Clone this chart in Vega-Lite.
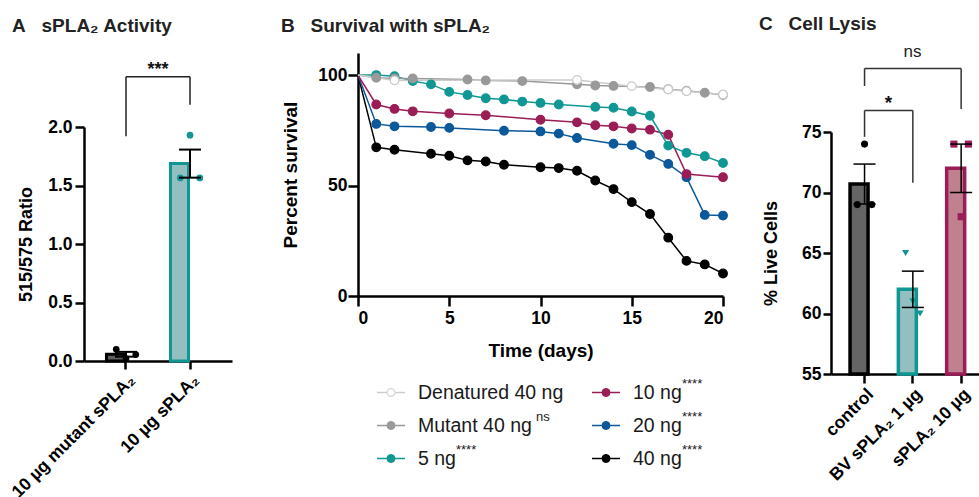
{
  "$schema": "https://vega.github.io/schema/vega-lite/v6.json",
  "background": "white",
  "padding": {"left": 8, "top": 15, "right": 0, "bottom": 0},
  "autosize": {"type": "pad"},
  "config": {
    "font": "Liberation Sans",
    "view": {"stroke": null},
    "axis": {"domainColor": "#000", "domainWidth": 2.5, "tickColor": "#000", "tickWidth": 2.5, "labelColor": "#000", "labelFont": "Liberation Sans", "labelFontWeight": "bold", "labelFontSize": 17.5, "titleFont": "Liberation Sans", "titleFontWeight": "bold", "titleFontSize": 18, "titleColor": "#000", "grid": false, "labelPadding": 2},
    "title": {"font": "Liberation Sans", "fontSize": 19, "fontWeight": "bold", "color": "#222", "anchor": "start"}
  },
  "datasets": {
    "barsA": [
      {"cond": "10 µg mutant sPLA₂", "mean": 0.058, "lo": 0.037, "hi": 0.078},
      {"cond": "10 µg sPLA₂", "mean": 1.687, "lo": 1.567, "hi": 1.807}
    ],
    "ptsA": [
      {"cond": "10 µg mutant sPLA₂", "rep": 1, "val": 0.10},
      {"cond": "10 µg mutant sPLA₂", "rep": 2, "val": 0.02},
      {"cond": "10 µg mutant sPLA₂", "rep": 3, "val": 0.055},
      {"cond": "10 µg sPLA₂", "rep": 1, "val": 1.565},
      {"cond": "10 µg sPLA₂", "rep": 2, "val": 1.93},
      {"cond": "10 µg sPLA₂", "rep": 3, "val": 1.565}
    ],
    "brA": [
      {"a": "10 µg mutant sPLA₂", "b": "10 µg sPLA₂", "ya": 1.92, "yb": 2.19, "top": 2.43, "label": "***"}
    ],
    "surv": [
      {"series": "40 ng", "day": 0, "pct": 100}, {"series": "40 ng", "day": 1, "pct": 67.3}, {"series": "40 ng", "day": 2, "pct": 66.2}, {"series": "40 ng", "day": 4, "pct": 64.4}, {"series": "40 ng", "day": 5, "pct": 63.5}, {"series": "40 ng", "day": 6, "pct": 61.4}, {"series": "40 ng", "day": 7, "pct": 60.9}, {"series": "40 ng", "day": 8, "pct": 59.4}, {"series": "40 ng", "day": 10, "pct": 58.3}, {"series": "40 ng", "day": 11, "pct": 57.9}, {"series": "40 ng", "day": 12, "pct": 56.7}, {"series": "40 ng", "day": 13, "pct": 52.3}, {"series": "40 ng", "day": 14, "pct": 48.4}, {"series": "40 ng", "day": 15, "pct": 42.5}, {"series": "40 ng", "day": 16, "pct": 37.1}, {"series": "40 ng", "day": 17, "pct": 26.4}, {"series": "40 ng", "day": 18, "pct": 15.9}, {"series": "40 ng", "day": 19, "pct": 14.3}, {"series": "40 ng", "day": 20, "pct": 10.2},
      {"series": "20 ng", "day": 0, "pct": 100}, {"series": "20 ng", "day": 1, "pct": 77.9}, {"series": "20 ng", "day": 2, "pct": 76.8}, {"series": "20 ng", "day": 4, "pct": 76.5}, {"series": "20 ng", "day": 5, "pct": 76.1}, {"series": "20 ng", "day": 8, "pct": 74.8}, {"series": "20 ng", "day": 10, "pct": 74.5}, {"series": "20 ng", "day": 11, "pct": 73.5}, {"series": "20 ng", "day": 12, "pct": 71.5}, {"series": "20 ng", "day": 14, "pct": 68.9}, {"series": "20 ng", "day": 15, "pct": 68.3}, {"series": "20 ng", "day": 16, "pct": 63.9}, {"series": "20 ng", "day": 17, "pct": 59.8}, {"series": "20 ng", "day": 18, "pct": 53.8}, {"series": "20 ng", "day": 19, "pct": 36.7}, {"series": "20 ng", "day": 20, "pct": 36.4},
      {"series": "10 ng", "day": 0, "pct": 100}, {"series": "10 ng", "day": 1, "pct": 86.7}, {"series": "10 ng", "day": 2, "pct": 84.7}, {"series": "10 ng", "day": 3, "pct": 83.6}, {"series": "10 ng", "day": 5, "pct": 82.6}, {"series": "10 ng", "day": 7, "pct": 81.8}, {"series": "10 ng", "day": 10, "pct": 79.8}, {"series": "10 ng", "day": 12, "pct": 78.6}, {"series": "10 ng", "day": 13, "pct": 77.3}, {"series": "10 ng", "day": 14, "pct": 76.8}, {"series": "10 ng", "day": 15, "pct": 75.8}, {"series": "10 ng", "day": 16, "pct": 75.3}, {"series": "10 ng", "day": 17, "pct": 73.0}, {"series": "10 ng", "day": 18, "pct": 55.2}, {"series": "10 ng", "day": 20, "pct": 53.8},
      {"series": "5 ng", "day": 0, "pct": 100}, {"series": "5 ng", "day": 1, "pct": 100}, {"series": "5 ng", "day": 2, "pct": 99.5}, {"series": "5 ng", "day": 3, "pct": 97.3}, {"series": "5 ng", "day": 4, "pct": 95.8}, {"series": "5 ng", "day": 5, "pct": 92.4}, {"series": "5 ng", "day": 6, "pct": 91.0}, {"series": "5 ng", "day": 7, "pct": 89.5}, {"series": "5 ng", "day": 8, "pct": 89.0}, {"series": "5 ng", "day": 9, "pct": 88.0}, {"series": "5 ng", "day": 10, "pct": 87.4}, {"series": "5 ng", "day": 11, "pct": 86.7}, {"series": "5 ng", "day": 13, "pct": 85.6}, {"series": "5 ng", "day": 14, "pct": 85.2}, {"series": "5 ng", "day": 15, "pct": 83.5}, {"series": "5 ng", "day": 16, "pct": 81.6}, {"series": "5 ng", "day": 17, "pct": 68.1}, {"series": "5 ng", "day": 18, "pct": 64.8}, {"series": "5 ng", "day": 19, "pct": 63.3}, {"series": "5 ng", "day": 20, "pct": 60.2},
      {"series": "Mutant 40 ng", "day": 0, "pct": 100}, {"series": "Mutant 40 ng", "day": 1, "pct": 98.8}, {"series": "Mutant 40 ng", "day": 2, "pct": 98.5}, {"series": "Mutant 40 ng", "day": 3, "pct": 98.5}, {"series": "Mutant 40 ng", "day": 6, "pct": 98.0}, {"series": "Mutant 40 ng", "day": 7, "pct": 97.6}, {"series": "Mutant 40 ng", "day": 9, "pct": 97.3}, {"series": "Mutant 40 ng", "day": 12, "pct": 95.8}, {"series": "Mutant 40 ng", "day": 13, "pct": 95.3}, {"series": "Mutant 40 ng", "day": 14, "pct": 95.1}, {"series": "Mutant 40 ng", "day": 16, "pct": 94.6}, {"series": "Mutant 40 ng", "day": 17, "pct": 93.6}, {"series": "Mutant 40 ng", "day": 18, "pct": 92.9}, {"series": "Mutant 40 ng", "day": 19, "pct": 92.0}, {"series": "Mutant 40 ng", "day": 20, "pct": 91.0},
      {"series": "Denatured 40 ng", "day": 0, "pct": 100}, {"series": "Denatured 40 ng", "day": 2, "pct": 97.6}, {"series": "Denatured 40 ng", "day": 12, "pct": 97.8}, {"series": "Denatured 40 ng", "day": 15, "pct": 95.0}, {"series": "Denatured 40 ng", "day": 17, "pct": 93.5}, {"series": "Denatured 40 ng", "day": 18, "pct": 92.7}, {"series": "Denatured 40 ng", "day": 20, "pct": 91.2}
    ],
    "leg": [
      {"series": "Denatured 40 ng", "sup": ""},
      {"series": "Mutant 40 ng", "sup": "ns"},
      {"series": "5 ng", "sup": "****"},
      {"series": "10 ng", "sup": "****"},
      {"series": "20 ng", "sup": "****"},
      {"series": "40 ng", "sup": "****"}
    ],
    "barsC": [
      {"cond": "control", "mean": 70.7, "lo": 69.05, "hi": 72.35},
      {"cond": "BV sPLA₂ 1 µg", "mean": 62.0, "lo": 60.5, "hi": 63.5},
      {"cond": "sPLA₂ 10 µg", "mean": 72.0, "lo": 70.0, "hi": 74.0}
    ],
    "ptsC": [
      {"cond": "control", "rep": 1, "val": 69.0},
      {"cond": "control", "rep": 2, "val": 74.0},
      {"cond": "control", "rep": 3, "val": 69.0},
      {"cond": "BV sPLA₂ 1 µg", "rep": 1, "val": 65.0},
      {"cond": "BV sPLA₂ 1 µg", "rep": 2, "val": 61.0},
      {"cond": "BV sPLA₂ 1 µg", "rep": 3, "val": 60.0},
      {"cond": "sPLA₂ 10 µg", "rep": 1, "val": 74.0},
      {"cond": "sPLA₂ 10 µg", "rep": 2, "val": 68.0},
      {"cond": "sPLA₂ 10 µg", "rep": 3, "val": 74.0}
    ],
    "brC": [
      {"a": "control", "b": "BV sPLA₂ 1 µg", "ya": 74.6, "yb": 70.8, "top": 76.77, "label": "*"},
      {"a": "control", "b": "sPLA₂ 10 µg", "ya": 78.8, "yb": 76.9, "top": 80.25, "label": "ns"}
    ]
  },
  "resolve": {"scale": {"color": "independent", "fill": "independent", "stroke": "independent", "shape": "independent", "x": "independent", "y": "independent", "xOffset": "independent"}},
  "spacing": 49,
  "hconcat": [
    {
      "bounds": "flush",
      "spacing": 0,
      "resolve": {"scale": {"x": "independent", "y": "independent"}},
      "vconcat": [
        {
          "width": 148, "height": 74,
          "title": {"text": "A\u00a0\u00a0\u00a0sPLA₂ Activity", "offset": 17, "dx": -72, "frame": "group"},
          "data": {"name": "brA"},
          "encoding": {
            "y": {"field": "top", "type": "quantitative", "scale": {"domain": [2.0, 2.6325], "nice": false, "zero": false}, "axis": null}
          },
          "layer": [
            {"mark": {"type": "rule", "strokeWidth": 1.5, "color": "#222"},
             "encoding": {"x": {"field": "a", "type": "nominal", "scale": {"domain": ["10 µg mutant sPLA₂", "10 µg sPLA₂"], "paddingInner": 0.39, "paddingOuter": 0.351}, "axis": null}, "x2": {"field": "b"}}},
            {"mark": {"type": "rule", "strokeWidth": 1.5, "color": "#222"},
             "encoding": {"x": {"field": "a", "type": "nominal"}, "y": {"field": "ya", "type": "quantitative"}, "y2": {"field": "top"}}},
            {"mark": {"type": "rule", "strokeWidth": 1.5, "color": "#222"},
             "encoding": {"x": {"field": "b", "type": "nominal"}, "y": {"field": "yb", "type": "quantitative"}, "y2": {"field": "top"}}},
            {"mark": {"type": "text", "dx": 32, "dy": -2, "baseline": "alphabetic", "fontSize": 18, "fontWeight": "bold", "color": "#111"},
             "encoding": {"x": {"field": "a", "type": "nominal"}, "text": {"field": "label"}}}
          ]
        },
        {
          "width": 148, "height": 234,
          "layer": [
            {"data": {"name": "barsA"}, "mark": {"type": "bar", "strokeWidth": 3},
             "encoding": {
               "x": {"field": "cond", "type": "nominal", "sort": null, "scale": {"domain": ["10 µg mutant sPLA₂", "10 µg sPLA₂"], "paddingInner": 0.39, "paddingOuter": 0.351}, "axis": {"title": null, "labelAngle": -45, "tickSize": 8, "labelPadding": 2, "labelFontSize": 17.5}},
               "y": {"field": "mean", "type": "quantitative", "scale": {"domain": [0, 2], "nice": false}, "axis": {"values": [0, 0.5, 1, 1.5, 2], "format": ".1f", "title": "515/575 Ratio", "tickSize": 9, "labelPadding": 3, "titlePadding": 12, "titleFontSize": 18}},
               "fill": {"field": "cond", "type": "nominal", "scale": {"domain": ["10 µg mutant sPLA₂", "10 µg sPLA₂"], "range": ["#5e5e5e", "#93bfc0"]}, "legend": null},
               "stroke": {"field": "cond", "type": "nominal", "scale": {"domain": ["10 µg mutant sPLA₂", "10 µg sPLA₂"], "range": ["#000000", "#109794"]}, "legend": null}
             }},
            {"data": {"name": "ptsA"}, "mark": {"type": "point", "shape": "circle", "filled": true, "size": 45, "opacity": 1},
             "encoding": {
               "x": {"field": "cond", "type": "nominal"},
               "xOffset": {"field": "rep", "type": "ordinal", "scale": {"type": "point", "padding": 1.91}},
               "y": {"field": "val", "type": "quantitative"},
               "color": {"field": "cond", "type": "nominal", "scale": {"domain": ["10 µg mutant sPLA₂", "10 µg sPLA₂"], "range": ["#000000", "#109794"]}, "legend": null}
             }},
            {"data": {"name": "barsA"}, "mark": {"type": "rule", "strokeWidth": 2, "color": "#000"},
             "encoding": {"x": {"field": "cond", "type": "nominal"}, "y": {"field": "lo", "type": "quantitative"}, "y2": {"field": "hi"}}},
            {"data": {"name": "barsA"}, "mark": {"type": "tick", "orient": "horizontal", "thickness": 2, "size": 22, "color": "#000", "opacity": 1},
             "encoding": {"x": {"field": "cond", "type": "nominal"}, "y": {"field": "hi", "type": "quantitative"}}},
            {"data": {"name": "barsA"}, "mark": {"type": "tick", "orient": "horizontal", "thickness": 2, "size": 22, "color": "#000", "opacity": 1},
             "encoding": {"x": {"field": "cond", "type": "nominal"}, "y": {"field": "lo", "type": "quantitative"}}}
          ]
        }
      ]
    },
    {
      "spacing": 29,
      "resolve": {"scale": {"color": "independent", "fill": "independent", "stroke": "independent", "shape": "independent", "x": "independent", "y": "independent", "xOffset": "independent"}},
      "hconcat": [
        {
          "bounds": "flush",
          "spacing": 80,
          "resolve": {"scale": {"color": "independent", "fill": "independent", "stroke": "independent", "x": "independent", "y": "independent"}},
          "vconcat": [
            {
              "width": 365, "height": 243,
              "title": {"text": "B\u00a0\u00a0\u00a0Survival with sPLA₂", "offset": 17, "dx": -77, "frame": "group"},
              "data": {"name": "surv"},
              "layer": [
                {"mark": {"type": "line", "strokeWidth": 1.5},
                 "encoding": {
                   "x": {"field": "day", "type": "quantitative", "scale": {"domain": [0, 20], "nice": false}, "axis": {"values": [0, 5, 10, 15, 20], "tickSize": 10, "labelPadding": 3, "title": "Time (days)", "titlePadding": 15, "titleFontSize": 19}},
                   "y": {"field": "pct", "type": "quantitative", "scale": {"domain": [0, 110], "nice": false},
                         "axis": {"orient": "left", "values": [0, 50, 100], "tickSize": 10, "labelPadding": 1, "title": "Percent survival", "titlePadding": 17, "titleFontSize": 19}},
                   "color": {"field": "series", "type": "nominal", "scale": {"domain": ["Denatured 40 ng", "Mutant 40 ng", "5 ng", "10 ng", "20 ng", "40 ng"], "range": ["#cccccc", "#999999", "#109794", "#9a1d56", "#0b589b", "#000000"]}, "legend": null},
                   "detail": {"field": "series"}
                 }},
                {"transform": [{"filter": "datum.day > 0"}],
                 "mark": {"type": "point", "shape": "circle", "filled": true, "size": 75, "strokeWidth": 1.2, "opacity": 1},
                 "encoding": {
                   "x": {"field": "day", "type": "quantitative"},
                   "y": {"field": "pct", "type": "quantitative"},
                   "stroke": {"field": "series", "type": "nominal", "scale": {"domain": ["Denatured 40 ng", "Mutant 40 ng", "5 ng", "10 ng", "20 ng", "40 ng"], "range": ["#cccccc", "#999999", "#109794", "#9a1d56", "#0b589b", "#000000"]}, "legend": null},
                   "fill": {"field": "series", "type": "nominal", "scale": {"domain": ["Denatured 40 ng", "Mutant 40 ng", "5 ng", "10 ng", "20 ng", "40 ng"], "range": ["#ffffff", "#999999", "#109794", "#9a1d56", "#0b589b", "#000000"]}, "legend": null}
                 }}
              ]
            },
            {
              "bounds": "flush",
              "spacing": 168,
              "resolve": {"scale": {"fill": "independent", "stroke": "independent", "y": "independent"}},
              "hconcat": [
                {
                  "width": 66, "height": 99,
                  "data": {"name": "leg"},
                  "transform": [{"filter": {"field": "series", "oneOf": ["Denatured 40 ng", "Mutant 40 ng", "5 ng"]}}],
                  "encoding": {"y": {"field": "series", "type": "nominal", "scale": {"type": "point", "domain": ["Denatured 40 ng", "Mutant 40 ng", "5 ng"], "padding": 0.5}, "axis": null}},
                  "layer": [
                    {"mark": {"type": "point", "shape": "M-1,0L1,0", "size": 784, "strokeWidth": 1.5, "filled": false, "opacity": 1},
                     "encoding": {"stroke": {"field": "series", "type": "nominal", "scale": {"domain": ["Denatured 40 ng", "Mutant 40 ng", "5 ng", "10 ng", "20 ng", "40 ng"], "range": ["#cccccc", "#999999", "#109794", "#9a1d56", "#0b589b", "#000000"]}, "legend": null}}},
                    {"mark": {"type": "point", "shape": "circle", "size": 64, "filled": true, "strokeWidth": 1, "opacity": 1},
                     "encoding": {
                       "stroke": {"field": "series", "type": "nominal", "legend": null},
                       "fill": {"field": "series", "type": "nominal", "scale": {"domain": ["Denatured 40 ng", "Mutant 40 ng", "5 ng", "10 ng", "20 ng", "40 ng"], "range": ["#ffffff", "#999999", "#109794", "#9a1d56", "#0b589b", "#000000"]}, "legend": null}
                     }},
                    {"mark": {"type": "text", "align": "left", "baseline": "middle", "dx": 27, "fontSize": 19.5, "color": "#1a1a1a"},
                     "encoding": {"text": {"field": "series"}}},
                    {"transform": [{"filter": "datum.series === 'Mutant 40 ng'"}],
                     "mark": {"type": "text", "align": "left", "baseline": "middle", "dx": 145, "dy": -9, "fontSize": 13, "color": "#1a1a1a"},
                     "encoding": {"text": {"field": "sup"}}},
                    {"transform": [{"filter": "datum.series === '5 ng'"}],
                     "mark": {"type": "text", "align": "left", "baseline": "middle", "dx": 65, "dy": -9, "fontSize": 13, "color": "#1a1a1a"},
                     "encoding": {"text": {"field": "sup"}}}
                  ]
                },
                {
                  "width": 28, "height": 99,
                  "data": {"name": "leg"},
                  "transform": [{"filter": {"field": "series", "oneOf": ["10 ng", "20 ng", "40 ng"]}}],
                  "encoding": {"y": {"field": "series", "type": "nominal", "scale": {"type": "point", "domain": ["10 ng", "20 ng", "40 ng"], "padding": 0.5}, "axis": null}},
                  "layer": [
                    {"mark": {"type": "point", "shape": "M-1,0L1,0", "size": 784, "strokeWidth": 1.5, "filled": false, "opacity": 1},
                     "encoding": {"stroke": {"field": "series", "type": "nominal", "scale": {"domain": ["Denatured 40 ng", "Mutant 40 ng", "5 ng", "10 ng", "20 ng", "40 ng"], "range": ["#cccccc", "#999999", "#109794", "#9a1d56", "#0b589b", "#000000"]}, "legend": null}}},
                    {"mark": {"type": "point", "shape": "circle", "size": 64, "filled": true, "strokeWidth": 1, "opacity": 1},
                     "encoding": {
                       "stroke": {"field": "series", "type": "nominal", "legend": null},
                       "fill": {"field": "series", "type": "nominal", "scale": {"domain": ["Denatured 40 ng", "Mutant 40 ng", "5 ng", "10 ng", "20 ng", "40 ng"], "range": ["#ffffff", "#999999", "#109794", "#9a1d56", "#0b589b", "#000000"]}, "legend": null}
                     }},
                    {"mark": {"type": "text", "align": "left", "baseline": "middle", "dx": 27, "fontSize": 19.5, "color": "#1a1a1a"},
                     "encoding": {"text": {"field": "series"}}},
                    {"mark": {"type": "text", "align": "left", "baseline": "middle", "dx": 76, "dy": -9, "fontSize": 13, "color": "#1a1a1a"},
                     "encoding": {"text": {"field": "sup"}}}
                  ]
                }
              ]
            }
          ]
        },
        {
          "bounds": "flush",
          "spacing": 0,
          "resolve": {"scale": {"x": "independent", "y": "independent", "color": "independent", "fill": "independent", "stroke": "independent", "shape": "independent", "xOffset": "independent"}},
          "vconcat": [
            {
              "width": 148, "height": 79,
              "title": {"text": "C\u00a0\u00a0\u00a0Cell Lysis", "offset": 9, "dx": -72, "frame": "group"},
              "data": {"name": "brC"},
              "encoding": {
                "y": {"field": "top", "type": "quantitative", "scale": {"domain": [75, 81.53], "nice": false, "zero": false}, "axis": null}
              },
              "layer": [
                {"mark": {"type": "rule", "strokeWidth": 1.5, "color": "#333"},
                 "encoding": {"x": {"field": "a", "type": "nominal", "scale": {"domain": ["control", "BV sPLA₂ 1 µg", "sPLA₂ 10 µg"], "paddingInner": 0.4, "paddingOuter": 0.232, "align": 0.85}, "axis": null}, "x2": {"field": "b"}}},
                {"mark": {"type": "rule", "strokeWidth": 1.5, "color": "#333"},
                 "encoding": {"x": {"field": "a", "type": "nominal"}, "y": {"field": "ya", "type": "quantitative"}, "y2": {"field": "top"}}},
                {"mark": {"type": "rule", "strokeWidth": 1.5, "color": "#333"},
                 "encoding": {"x": {"field": "b", "type": "nominal"}, "y": {"field": "yb", "type": "quantitative"}, "y2": {"field": "top"}}},
                {"transform": [{"filter": "datum.label === '*'"}], "mark": {"type": "text", "dx": 24, "dy": -2, "baseline": "alphabetic", "fontSize": 19, "fontWeight": "bold", "color": "#111"},
                 "encoding": {"x": {"field": "a", "type": "nominal"}, "text": {"field": "label"}}},
                {"transform": [{"filter": "datum.label === 'ns'"}], "mark": {"type": "text", "dx": 48, "dy": -11, "baseline": "alphabetic", "fontSize": 17, "color": "#222"},
                 "encoding": {"x": {"field": "a", "type": "nominal"}, "text": {"field": "label"}}}
              ]
            },
            {
              "width": 148, "height": 242,
              "layer": [
                {"data": {"name": "barsC"}, "mark": {"type": "bar", "strokeWidth": 3.5},
                 "encoding": {
                   "x": {"field": "cond", "type": "nominal", "sort": null, "scale": {"domain": ["control", "BV sPLA₂ 1 µg", "sPLA₂ 10 µg"], "paddingInner": 0.4, "paddingOuter": 0.232, "align": 0.85}, "axis": {"title": null, "labelAngle": -45, "tickSize": 9, "labelPadding": 2}},
                   "y": {"field": "mean", "type": "quantitative", "scale": {"domain": [55, 75], "nice": false, "zero": false}, "axis": {"values": [55, 60, 65, 70, 75], "title": "% Live Cells", "tickSize": 8, "labelPadding": 2, "titlePadding": 21}},
                   "y2": {"datum": 55},
                   "fill": {"field": "cond", "type": "nominal", "scale": {"domain": ["control", "BV sPLA₂ 1 µg", "sPLA₂ 10 µg"], "range": ["#656565", "#93bfc0", "#bf8190"]}, "legend": null},
                   "stroke": {"field": "cond", "type": "nominal", "scale": {"domain": ["control", "BV sPLA₂ 1 µg", "sPLA₂ 10 µg"], "range": ["#000000", "#109794", "#9a1d56"]}, "legend": null}
                 }},
                {"data": {"name": "ptsC"}, "mark": {"type": "point", "filled": true, "size": 50, "opacity": 1},
                 "encoding": {
                   "x": {"field": "cond", "type": "nominal"},
                   "xOffset": {"field": "rep", "type": "ordinal", "scale": {"type": "point", "padding": 1.07}},
                   "y": {"field": "val", "type": "quantitative"},
                   "color": {"field": "cond", "type": "nominal", "scale": {"domain": ["control", "BV sPLA₂ 1 µg", "sPLA₂ 10 µg"], "range": ["#000000", "#109794", "#9a1d56"]}, "legend": null},
                   "shape": {"field": "cond", "type": "nominal", "scale": {"domain": ["control", "BV sPLA₂ 1 µg", "sPLA₂ 10 µg"], "range": ["circle", "triangle-down", "square"]}, "legend": null}
                 }},
                {"data": {"name": "barsC"}, "mark": {"type": "rule", "strokeWidth": 1.5, "color": "#000"},
                 "encoding": {"x": {"field": "cond", "type": "nominal"}, "y": {"field": "lo", "type": "quantitative"}, "y2": {"field": "hi"}}},
                {"data": {"name": "barsC"}, "mark": {"type": "tick", "orient": "horizontal", "thickness": 1.5, "size": 22, "color": "#000", "opacity": 1},
                 "encoding": {"x": {"field": "cond", "type": "nominal"}, "y": {"field": "hi", "type": "quantitative"}}},
                {"data": {"name": "barsC"}, "mark": {"type": "tick", "orient": "horizontal", "thickness": 1.5, "size": 22, "color": "#000", "opacity": 1},
                 "encoding": {"x": {"field": "cond", "type": "nominal"}, "y": {"field": "lo", "type": "quantitative"}}}
              ]
            }
          ]
        }
      ]
    }
  ]
}
